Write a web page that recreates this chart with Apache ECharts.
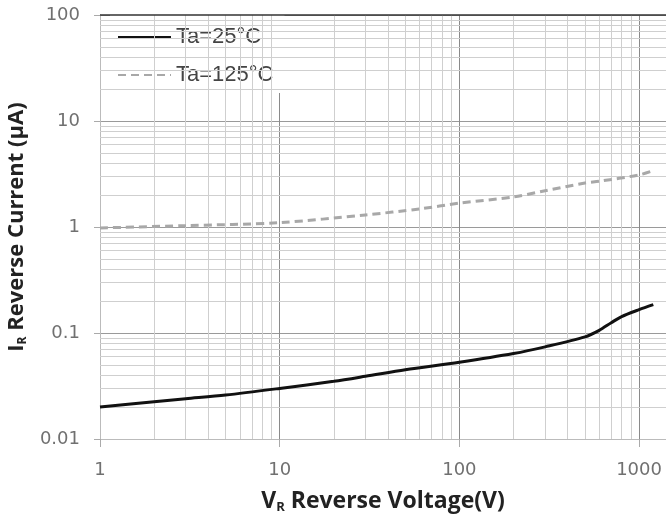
<!DOCTYPE html>
<html><head><meta charset="utf-8">
<script src="https://cdn.jsdelivr.net/npm/echarts@6/dist/echarts.min.js"></script>
<style>html,body{margin:0;padding:0;background:#fff}#c{width:666px;height:515px}</style>
</head><body><div id="c"></div>
<script>
const seriesNames = ['Ta=25°C', 'Ta=125°C'];
const vr25 = [1, 2, 3, 5, 10, 20, 30, 50, 100, 200, 300, 500, 600, 700, 800, 1000, 1200];
const ir25 = [0.020, 0.0225, 0.024, 0.026, 0.030, 0.035, 0.039, 0.045, 0.053, 0.064, 0.074, 0.092, 0.106, 0.125, 0.143, 0.166, 0.185];
const vr125 = [1, 3, 10, 30, 60, 100, 200, 300, 500, 600, 1000, 1200];
const ir125 = [0.98, 1.03, 1.1, 1.3, 1.48, 1.68, 1.92, 2.2, 2.6, 2.7, 3.1, 3.4];
const xTickLabels = ['1', '10', '100', '1000'];
const yTickLabels = ['0.01', '0.1', '1', '10', '100'];
const minorMultipliers = [2, 3, 4, 5, 6, 7, 8, 9];
const xDecades = [1, 10, 100, 1000];
const yDecades = [0.01, 0.1, 1, 10];
const xMin = 1, xMax = 1412, yMin = 0.01, yMax = 100;

const minorX = [];
xDecades.forEach(d => minorMultipliers.forEach(m => { if (d * m < xMax) minorX.push(d * m); }));
const minorY = [];
yDecades.forEach(d => minorMultipliers.forEach(m => minorY.push(d * m)));

const tickFont = { fontFamily: 'DejaVu Sans', fontSize: 18, color: '#707070' };
function titleRich(size) {
  return {
    m: { fontFamily: 'Open Sans', fontWeight: 'bold', fontSize: size, color: '#222' },
    s: { fontFamily: 'Open Sans', fontWeight: 'bold', fontSize: Math.round(size * 0.55), color: '#222', verticalAlign: 'bottom', padding: [Math.round(size * 0.55), 0, 0, 0] }
  };
}

const chart = echarts.init(document.getElementById('c'), null, { renderer: 'canvas' });
chart.setOption({
  animation: false,
  backgroundColor: '#fff',
  grid: { left: 100, right: 0, top: 15, bottom: 76, containLabel: false, outerBoundsMode: 'none' },
  legend: {
    data: seriesNames,
    orient: 'vertical',
    left: 110, top: 15,
    padding: [5, 11, 1, 7],
    itemGap: 4,
    itemWidth: 53, itemHeight: 14,
    backgroundColor: '#fff',
    itemStyle: { color: 'transparent', borderColor: 'transparent', borderWidth: 0 },
    textStyle: { fontFamily: 'Liberation Sans', fontSize: 22, color: '#444', lineHeight: 22, padding: [12, 0, 0, 0] }
  },
  xAxis: {
    type: 'log', logBase: 10, min: xMin, max: xMax,
    name: '{m|V}{s|R}{m| Reverse Voltage(V)}',
    nameLocation: 'middle', nameGap: 49,
    nameTextStyle: { rich: titleRich(23) },
    axisLine: { show: true, lineStyle: { color: '#bbb', width: 1 } },
    axisTick: { show: true, length: 8, lineStyle: { color: '#aaa' } },
    axisLabel: { ...tickFont, margin: 22, showMaxLabel: false,
      formatter: v => xTickLabels[Math.round(Math.log10(v))] || '' },
    splitLine: { show: true, showMaxLine: false, lineStyle: { color: '#8a8a8a', width: 1 } },
    minorTick: { show: false }
  },
  yAxis: {
    type: 'log', logBase: 10, min: yMin, max: yMax,
    name: '{m|I}{s|R}{m| Reverse Current (μA)}',
    nameLocation: 'middle', nameGap: 58, nameRotate: 90,
    nameTextStyle: { rich: titleRich(22) },
    axisLine: { show: true, lineStyle: { color: '#bbb', width: 1 } },
    axisTick: { show: true, length: 6, lineStyle: { color: '#aaa' } },
    axisLabel: { ...tickFont, margin: 20,
      formatter: v => yTickLabels[Math.round(Math.log10(v)) + 2] || '' },
    splitLine: { show: true, lineStyle: { color: '#9a9a9a', width: 1 } }
  },
  series: [
    {
      type: 'line', data: [], z: 1, silent: true,
      markLine: {
        silent: true, symbol: ['none', 'none'], label: { show: false },
        lineStyle: { color: '#cfcfcf', width: 1, type: 'solid' },
        emphasis: { disabled: true },
        data: minorX.map(v => ({ xAxis: v })).concat(minorY.map(v => ({ yAxis: v })))
      }
    },
    {
      type: 'line', data: [], z: 2, silent: true,
      markLine: {
        silent: true, symbol: ['none', 'none'], label: { show: false },
        lineStyle: { color: '#333', width: 1.5, type: 'solid' },
        data: [{ yAxis: yMax }]
      }
    },
    {
      name: seriesNames[0], type: 'line', z: 5, smooth: 0.3, symbol: 'none',
      lineStyle: { color: '#111', width: 3 }, itemStyle: { color: '#111' },
      data: vr25.map((v, i) => [v, ir25[i]])
    },
    {
      name: seriesNames[1], type: 'line', z: 5, smooth: 0.3, symbol: 'none',
      lineStyle: { color: '#a8a8a8', width: 3, type: [8, 5] }, itemStyle: { color: '#a8a8a8' },
      data: vr125.map((v, i) => [v, ir125[i]])
    }
  ]
});
</script></body></html>
